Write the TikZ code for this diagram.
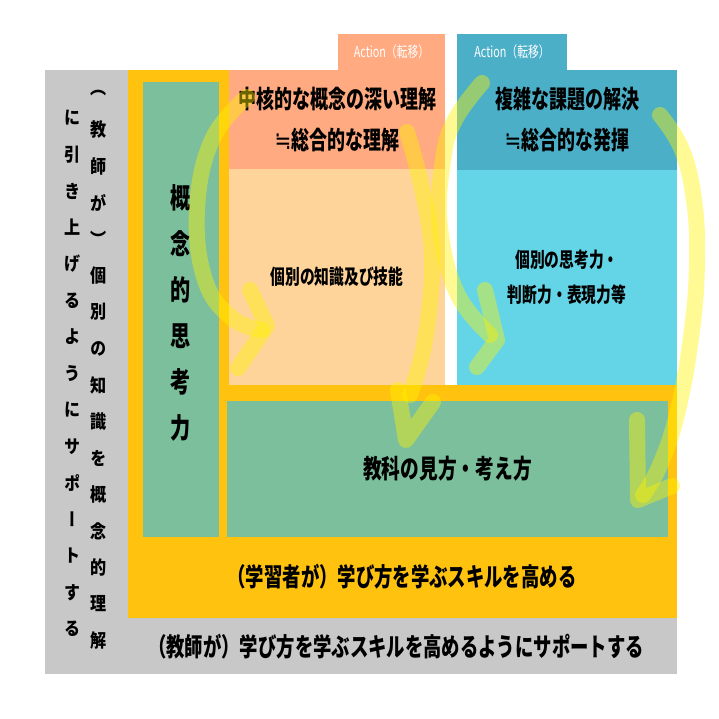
\documentclass[tikz,border=0pt]{standalone}
\usepackage{fontspec}
\usepackage{xcolor}
\usepackage{tikz}
\newfontfamily\jp{Noto Sans CJK JP}[FakeStretch=0.72]
\newfontfamily\jpv{Noto Sans CJK JP}[FakeStretch=0.87,RawFeature=+vert]
\newfontfamily\sym{DejaVu Sans}[FakeStretch=0.8]
\newcommand{\nearly}{{\sym\mdseries ≒}}
\definecolor{gry}{HTML}{C8C8C8}
\definecolor{amb}{HTML}{FFC30F}
\definecolor{grn}{HTML}{7CBF9C}
\definecolor{sal}{HTML}{FFAA80}
\definecolor{pch}{HTML}{FFD49A}
\definecolor{tea}{HTML}{4BAFC8}
\definecolor{cya}{HTML}{64D5E7}

\begin{document}
\begin{tikzpicture}[x=1pt,y=-1pt,
					every node/.style = {inner sep=0pt, outer sep=0pt, align=center,
						font=\jp\bfseries},
					box/.style = {anchor=north west},
					big/.style = {font=\jp\bfseries\fontsize{25}{41}\selectfont},
					small/.style = {font=\jp\bfseries\fontsize{20.5}{35}\selectfont},
					tab/.style = {box, text=white, font=\jp\fontsize{15}{18}\selectfont},
					vtxt/.style = {font=\jpv\bfseries\fontsize{18.5}{20}\selectfont},
					brush/.style = {draw=yellow, draw opacity=0.42, line width=16pt,
						line cap=round, line join=round}]
					\useasboundingbox (0,0) rectangle (719,719);
					\node[box, fill=gry, minimum width=632pt, minimum height=604pt] (tch) at (45,70) {};
					\node[box, fill=amb, minimum width=549pt, minimum height=548pt] (lrn) at (128,70) {};
					\node[box, fill=grn, minimum width=76pt, minimum height=455pt] (cpt) at (143,82) {};
					\node[box, fill=grn, minimum width=441pt, minimum height=136pt, big,
						font=\jp\bfseries\fontsize{26}{30}\selectfont] (sbj) at (227,401) {教科の見方・考え方};
					\node[box, fill=white, minimum width=12pt, minimum height=315pt] (gap) at (445,70) {};
					\node[box, fill=sal, minimum width=216pt, minimum height=99pt, big] (core) at (229,70)
						{中核的な概念の深い理解\\\nearly 総合的な理解};
					\node[box, fill=pch, minimum width=216pt, minimum height=216pt, small] (knw) at (229,169)
						{個別の知識及び技能};
					\node[box, fill=tea, minimum width=220pt, minimum height=100pt, big] (cmp) at (457,70)
						{複雑な課題の解決\\\nearly 総合的な発揮};
					\node[box, fill=cya, minimum width=220pt, minimum height=215pt, small] (thk) at (457,170)
						{個別の思考力・\\判断力・表現力等};
					\node[tab, fill=sal, minimum width=107pt, minimum height=36pt] (tabL) at (338,34) {Action（転移）};
					\node[tab, fill=tea, minimum width=110pt, minimum height=36pt] (tabR) at (457,34) {Action（転移）};
					\node[big, font=\jp\bfseries\fontsize{25.5}{30}\selectfont] (lrntxt) at (402,577)
						{（学習者が）学び方を学ぶスキルを高める};
					\node[big, font=\jp\bfseries\fontsize{25.5}{30}\selectfont] (tchtxt) at (396,647)
						{（教師が）学び方を学ぶスキルを高めるようにサポートする};
					\foreach \c [count=\i from 0] in {概,念,的,思,考,力}
						\node[font=\jp\bfseries\fontsize{28}{30}\selectfont] (c\i) at (181,198+46*\i) {\c};
					\foreach \c [count=\i from 0] in {（,教,師,が,）,個,別,の,知,識,を,概,念,的,理,解}
						\node[vtxt] (r\i) at (99,93+36.5*\i) {\c};
					\foreach \c [count=\i from 0] in {に,引,き,上,げ,る,よ,う,に,サ,ポ,ー,ト,す,る}
						\node[vtxt] (l\i) at (73,118+36.5*\i) {\c};
					\draw[brush] plot[smooth, tension=0.7] coordinates {(247,97) (212,140) (197,210) (205,280) (232,318) (262,330)};
					\draw[brush] (250,290) -- (267,326) -- (238,368);
					\draw[brush] plot[smooth, tension=0.7] coordinates {(407,132) (423,193) (432,260) (425,340) (410,395)};
					\draw[brush] (398,390) -- (406,440) -- (433,402);
					\draw[brush] plot[smooth, tension=0.7] coordinates {(482,83) (455,120) (443,160) (440,227) (457,293) (490,335)};
					\draw[brush] (485,290) -- (497,340) -- (477,367);
					\draw[brush] plot[smooth, tension=0.7] coordinates {(660,115) (682,150) (694,200) (697,260) (692,330) (678,410) (660,465) (643,495)};
					\draw[brush] (637,420) -- (638,500) -- (672,486);
				\end{tikzpicture}
\end{document}
